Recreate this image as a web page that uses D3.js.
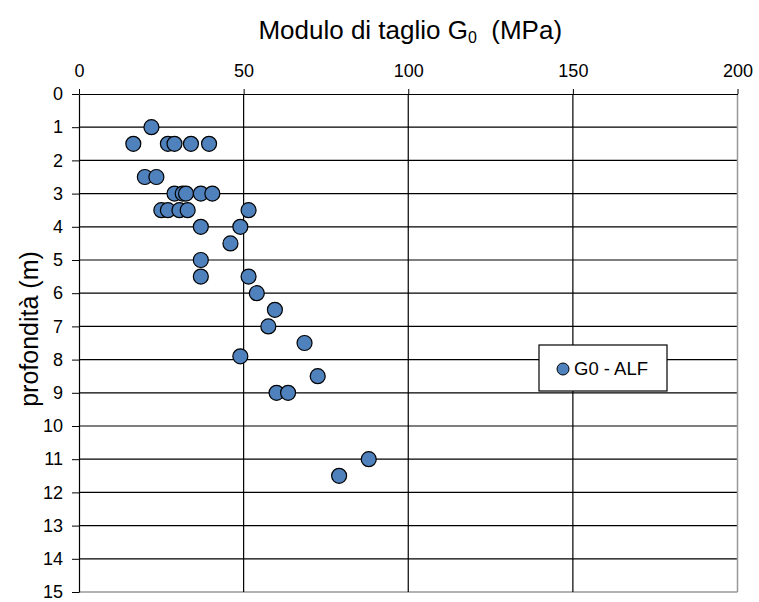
<!DOCTYPE html>
<html lang="it">
<head>
<meta charset="UTF-8">
<title>Modulo di taglio G0</title>
<script src="https://d3js.org/d3.v7.min.js"></script>
<style>
  body { margin: 0; background: #fff; }
  svg { display: block; font-family: "Liberation Sans", Arial, sans-serif; }
  .axis text { font-size: 18px; fill: #000; }
  .axis path { stroke: #000; }
  .axis line { stroke: #000; }
</style>
</head>
<body>
<svg width="759" height="602"></svg>
<script>
// G0 (MPa) vs profondità (m)
var g0 = [22, 16.5, 27, 29, 34, 39.5, 20, 23.5, 29, 31.5, 32.5, 37, 40.5,
          25, 27, 30.5, 33, 51.5, 37, 49, 46, 37, 37, 51.5, 54, 59.5, 57.5,
          68.5, 49, 72.5, 60, 63.5, 88, 79];
var depth = [1, 1.5, 1.5, 1.5, 1.5, 1.5, 2.5, 2.5, 3, 3, 3, 3, 3,
             3.5, 3.5, 3.5, 3.5, 3.5, 4, 4, 4.5, 5, 5.5, 5.5, 6, 6.5, 7,
             7.5, 7.9, 8.5, 9, 9, 11, 11.5];
var xTicks = [0, 50, 100, 150, 200];
var yTicks = d3.range(0, 16);
var seriesName = "G0 - ALF";

var svg = d3.select("svg");
var pLeft = 79, pRight = 737.5, pTop = 94, pBottom = 592;

var x = d3.scaleLinear().domain([0, 200]).range([pLeft, pRight]);
var y = d3.scaleLinear().domain([0, 15]).range([pTop, pBottom]);

// griglia orizzontale
svg.append("g").selectAll("line")
  .data(yTicks.slice(1))
  .enter().append("line")
  .attr("x1", pLeft).attr("x2", pRight)
  .attr("y1", function(d) { return y(d); })
  .attr("y2", function(d) { return y(d); })
  .attr("stroke", function(d) { return d === 15 ? "#999" : "#000"; })
  .attr("stroke-width", function(d) { return d === 15 ? 1.5 : 1.2; });

// griglia verticale
svg.append("g").selectAll("line")
  .data(xTicks.slice(1))
  .enter().append("line")
  .attr("y1", pTop).attr("y2", pBottom)
  .attr("x1", function(d) { return x(d); })
  .attr("x2", function(d) { return x(d); })
  .attr("stroke", function(d) { return d === 200 ? "#999" : "#000"; })
  .attr("stroke-width", function(d) { return d === 200 ? 1.5 : 1.2; });

// assi
svg.append("g")
  .attr("class", "axis")
  .attr("transform", "translate(0," + pTop + ")")
  .call(d3.axisTop(x).tickValues(xTicks).tickSize(5).tickPadding(12).tickSizeOuter(0))
  .call(function(g) { g.select(".domain").attr("stroke-width", 1.2); });

svg.append("g")
  .attr("class", "axis")
  .attr("transform", "translate(" + pLeft + ",0)")
  .call(d3.axisLeft(y).tickValues(yTicks).tickSize(7).tickPadding(9).tickSizeOuter(0))
  .call(function(g) { g.select(".domain").attr("stroke-width", 1.2); });

// punti
svg.append("g").selectAll("circle")
  .data(g0)
  .enter().append("circle")
  .attr("cx", function(d) { return x(d); })
  .attr("cy", function(d, i) { return y(depth[i]); })
  .attr("r", 7.5)
  .attr("fill", "#4F81BD")
  .attr("stroke", "#000")
  .attr("stroke-width", 1.2);

// titolo
var title = svg.append("text")
  .attr("x", (pLeft + pRight) / 2 + 2)
  .attr("y", 39)
  .attr("text-anchor", "middle")
  .attr("font-size", 26)
  .attr("fill", "#000");
title.append("tspan").text("Modulo di taglio G");
title.append("tspan").attr("font-size", 16).attr("dy", 4).text("0");
title.append("tspan").attr("dy", -4).text("\u00a0 (MPa)");

// etichetta asse y
svg.append("text")
  .attr("transform", "translate(38,329) rotate(-90)")
  .attr("text-anchor", "middle")
  .attr("font-size", 25)
  .attr("fill", "#000")
  .text("profondità (m)");

// legenda
var leg = svg.append("g").attr("transform", "translate(539,345)");
leg.append("rect")
  .attr("width", 128).attr("height", 46)
  .attr("fill", "#fff").attr("stroke", "#000").attr("stroke-width", 1.2);
leg.append("circle")
  .attr("cx", 24).attr("cy", 24).attr("r", 6)
  .attr("fill", "#4F81BD").attr("stroke", "#000").attr("stroke-width", 1);
leg.append("text")
  .attr("x", 35).attr("y", 30)
  .attr("font-size", 18.5)
  .attr("fill", "#000")
  .text(seriesName);
</script>
</body>
</html>
